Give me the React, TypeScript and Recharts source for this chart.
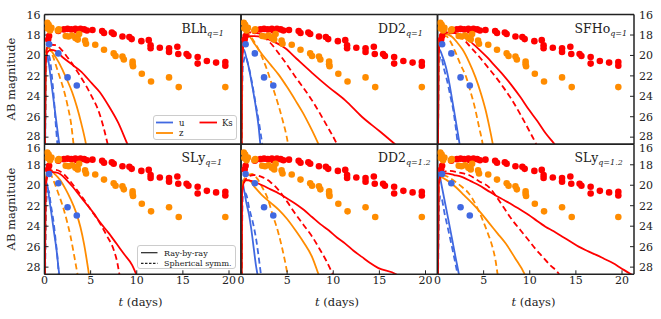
import { ComposedChart, Line, Scatter, XAxis, YAxis, ZAxis } from 'recharts'

type Pt = [number, number]

const X_TICKS = [0, 5, 10, 15, 20]
const Y_TICKS = [16, 18, 20, 22, 24, 26, 28]

// observed points (same in every panel)
const obsU: Pt[] = [[0.5, 18.9], [1.5, 19.8], [2.5, 22.15], [3.5, 22.95]]
const obsZ: Pt[] = [
  [0.3, 16.8], [0.45, 17.0], [0.35, 17.35], [0.6, 17.55], [0.75, 17.3], [1.45, 17.55], [1.55, 17.45],
  [2.3, 18.1], [2.6, 18.15], [3.0, 18.05], [3.35, 18.3], [3.55, 18.2], [3.75, 17.9], [3.6, 18.45],
  [4.4, 18.55], [4.5, 18.85], [5.5, 18.95], [6.45, 19.45], [7.5, 19.8], [7.7, 20.05], [8.45, 20.1],
  [8.6, 20.4], [9.55, 20.6], [9.55, 20.85], [9.6, 21.05], [10.55, 21.8], [11.55, 22.55], [13.5, 22.15],
  [14.55, 23.1], [19.6, 23.1],
]
const obsKs: Pt[] = [
  [0.4, 18.45], [0.5, 18.1], [1.5, 17.6], [2.1, 17.45], [2.5, 17.4], [2.9, 17.45], [3.35, 17.4],
  [3.5, 17.55], [3.9, 17.4], [4.3, 17.45], [4.6, 17.55], [5.2, 17.5], [6.25, 17.6], [6.45, 17.8],
  [7.3, 17.75], [7.5, 17.9], [8.45, 18.15], [9.2, 18.2], [9.45, 18.4], [10.5, 18.6], [11.3, 18.5],
  [11.5, 19.0], [11.5, 19.3], [12.5, 19.25], [13.5, 19.3], [13.5, 19.65], [14.4, 19.15], [14.5, 19.85],
  [15.4, 19.85], [15.6, 20.05], [16.6, 20.15], [16.6, 20.8], [17.6, 20.55], [18.6, 20.7], [19.6, 20.65],
  [19.6, 21.0],
]

// BLh q=1
const blhURay: Pt[] = [[0.05, 30], [0.15, 20.5], [0.25, 19.9], [0.4, 20.4], [0.7, 22.4], [1.0, 24.5], [1.3, 26.6], [1.6, 28.7], [1.7, 29.4]]
const blhUSph: Pt[] = [[0.05, 30], [0.2, 21], [0.35, 19.9], [0.55, 20.2], [0.8, 22.0], [1.0, 24.0], [1.2, 26.5], [1.4, 28.7], [1.5, 29.6]]
const blhZRay: Pt[] = [[0.05, 30], [0.12, 20.5], [0.3, 19.2], [0.6, 19.4], [1.0, 19.9], [1.5, 20.6], [2.0, 21.5], [2.5, 22.5], [3.0, 23.6], [3.5, 25.0], [4.0, 26.7], [4.5, 28.7], [4.6, 29.2]]
const blhZSph: Pt[] = [[0.05, 30], [0.15, 20], [0.35, 19.0], [0.6, 19.4], [1.0, 20.3], [1.5, 21.7], [2.0, 23.1], [2.5, 24.9], [2.9, 26.8], [3.15, 28.7], [3.25, 29.5]]
const blhKRay: Pt[] = [[0.05, 30], [0.1, 21], [0.3, 19.7], [0.7, 19.45], [1.2, 19.55], [2.0, 20.2], [3.0, 20.9], [4.0, 21.6], [5.0, 22.6], [6.0, 23.6], [7.0, 25.0], [8.0, 26.6], [9.0, 28.7], [9.3, 29.3]]
const blhKSph: Pt[] = [[0.05, 30], [0.12, 21], [0.3, 19.2], [0.7, 18.95], [1.2, 19.0], [1.8, 19.4], [2.5, 20.2], [3.0, 20.8], [3.5, 21.5], [4.0, 22.2], [5.0, 23.8], [6.0, 25.8], [6.85, 28.7], [7.0, 29.3]]

// DD2 q=1
const dd2URay: Pt[] = [[0.05, 30], [0.15, 20], [0.3, 19.4], [0.6, 20.3], [0.85, 21.2], [1.2, 22.9], [1.6, 25.0], [1.9, 26.9], [2.1, 28.7], [2.2, 29.4]]
const dd2USph: Pt[] = [[0.05, 30], [0.2, 21], [0.5, 20.1], [0.8, 21.0], [1.2, 22.7], [1.6, 24.8], [1.9, 26.3], [2.3, 28.7], [2.4, 29.4]]
const dd2ZRay: Pt[] = [[0.05, 30], [0.12, 20], [0.35, 18.3], [0.85, 18.15], [1.5, 18.9], [2.3, 19.9], [3.2, 20.9], [4.1, 21.9], [5.0, 23.1], [5.9, 24.4], [6.7, 25.6], [7.4, 26.8], [8.0, 27.9], [8.4, 28.7], [8.6, 29.2]]
const dd2ZSph: Pt[] = [[0.05, 30], [0.12, 20], [0.5, 17.8], [0.9, 18.0], [1.4, 18.6], [1.9, 19.4], [2.3, 20.2], [2.9, 21.6], [3.4, 23.0], [4.0, 24.7], [4.5, 26.3], [5.1, 28.7], [5.2, 29.3]]
const dd2KRay: Pt[] = [[0.05, 30], [0.1, 21], [0.3, 18.6], [0.8, 18.1], [1.4, 18.1], [2.3, 18.2], [3.4, 18.6], [4.8, 19.3], [6.0, 20.3], [7.7, 21.7], [9.5, 23.1], [11.3, 24.4], [13.1, 26.0], [15.0, 27.4], [16.7, 28.7], [17.2, 29.1]]
const dd2KSph: Pt[] = [[0.05, 30], [0.1, 21], [0.3, 18.2], [1.0, 17.75], [1.9, 17.85], [3.0, 18.6], [4.5, 20.3], [5.9, 22.1], [7.7, 24.4], [9.2, 26.7], [10.4, 28.7], [10.6, 29.1]]

// SFHo q=1
const sfhURay: Pt[] = [[0.05, 30], [0.1, 20.5], [0.2, 19.4], [0.5, 20.0], [0.9, 21.1], [1.3, 22.8], [1.6, 24.4], [2.0, 26.5], [2.4, 28.7], [2.5, 29.3]]
const sfhUSph: Pt[] = [[0.05, 30], [0.15, 21], [0.35, 20.1], [0.7, 21.3], [1.1, 22.7], [1.4, 24.0], [1.7, 25.3], [2.0, 27.2], [2.2, 28.7], [2.3, 29.4]]
const sfhZRay: Pt[] = [[0.05, 30], [0.12, 19.5], [0.35, 18.3], [0.9, 17.9], [1.6, 18.2], [2.2, 18.8], [2.7, 19.4], [3.4, 20.6], [4.1, 22.1], [4.7, 23.7], [5.2, 25.3], [5.6, 26.9], [6.0, 28.7], [6.1, 29.2]]
const sfhZSph: Pt[] = [[0.05, 30], [0.12, 19.5], [0.4, 18.1], [0.9, 18.1], [1.5, 18.8], [2.0, 19.8], [2.5, 20.9], [3.1, 22.1], [3.6, 23.6], [4.1, 25.3], [4.5, 27.0], [4.9, 28.7], [5.0, 29.3]]
const sfhKRay: Pt[] = [[0.05, 30], [0.1, 20], [0.3, 18.3], [0.8, 17.85], [1.25, 17.75], [2.0, 17.85], [2.7, 18.1], [3.5, 18.6], [4.5, 19.4], [5.4, 20.2], [6.3, 21.1], [7.2, 22.0], [8.1, 23.0], [9.0, 24.1], [9.9, 25.3], [10.8, 26.4], [11.7, 27.6], [12.7, 28.7], [13.0, 29.1]]
const sfhKSph: Pt[] = [[0.05, 30], [0.12, 20], [0.4, 18.1], [1.0, 17.6], [1.6, 17.7], [2.1, 17.9], [2.7, 18.3], [3.5, 19.1], [4.5, 20.1], [5.4, 21.1], [6.3, 22.1], [7.2, 23.2], [8.1, 24.4], [9.0, 25.8], [9.9, 27.3], [10.7, 28.7], [10.9, 29.1]]

// SLy q=1
const slyURay: Pt[] = [[0.05, 30], [0.1, 21], [0.25, 19.8], [0.5, 21.2], [0.8, 23.1], [1.05, 24.7], [1.3, 26.3], [1.6, 28.7], [1.7, 29.3]]
const slyUSph: Pt[] = [[0.05, 30], [0.2, 21.5], [0.43, 20.5], [0.7, 22.0], [1.0, 23.7], [1.2, 25.3], [1.4, 27.0], [1.55, 28.7], [1.65, 29.4]]
const slyZRay: Pt[] = [[0.05, 30], [0.1, 20], [0.3, 18.7], [0.6, 18.5], [1.1, 18.9], [1.7, 19.5], [2.3, 20.4], [2.8, 21.3], [3.4, 22.6], [3.9, 24.1], [4.3, 25.8], [4.7, 28.0], [4.85, 28.9]]
const slyZSph: Pt[] = [[0.05, 30], [0.12, 20], [0.35, 19.0], [0.6, 18.9], [1.0, 19.6], [1.5, 20.8], [2.0, 22.1], [2.4, 23.4], [2.8, 24.9], [3.1, 26.3], [3.4, 27.8], [3.6, 28.8], [3.7, 29.3]]
const slyKRay: Pt[] = [[0.05, 30], [0.1, 20.5], [0.3, 18.9], [0.6, 18.7], [1.2, 18.75], [1.7, 18.9], [2.4, 19.5], [3.1, 20.2], [3.8, 21.0], [4.6, 21.9], [5.3, 22.7], [6.0, 23.6], [6.9, 24.6], [7.8, 25.7], [8.6, 26.7], [9.5, 27.8], [9.9, 28.6], [10.1, 29.0]]
const slyKSph: Pt[] = [[0.05, 30], [0.15, 20], [0.5, 18.7], [1.15, 18.5], [1.8, 18.7], [2.4, 19.2], [3.3, 20.2], [4.2, 21.3], [5.1, 22.5], [6.0, 23.7], [6.8, 25.0], [7.5, 26.3], [7.9, 27.6], [8.1, 28.6], [8.2, 29.1]]

// DD2 q=1.2
const dd2bURay: Pt[] = [[0.05, 30], [0.1, 19.5], [0.3, 20.3], [0.6, 21.8], [0.85, 22.8], [1.1, 24.2], [1.4, 26.3], [1.6, 27.7], [1.8, 28.8], [1.9, 29.4]]
const dd2bUSph: Pt[] = [[0.05, 30], [0.2, 21], [0.5, 20.8], [0.9, 22.3], [1.4, 24.1], [1.7, 25.6], [1.9, 26.9], [2.1, 28.3], [2.2, 29.0]]
const dd2bZRay: Pt[] = [[0.05, 30], [0.1, 20.5], [0.3, 19.6], [0.85, 19.5], [1.5, 20.2], [2.3, 21.0], [3.2, 21.7], [4.1, 22.4], [5.0, 23.3], [5.9, 24.4], [6.8, 25.6], [7.7, 27.0], [8.4, 28.7], [8.6, 29.2]]
const dd2bZSph: Pt[] = [[0.05, 30], [0.12, 20], [0.5, 19.2], [1.2, 18.9], [1.8, 19.4], [2.3, 20.2], [2.9, 21.3], [3.4, 22.8], [4.0, 24.5], [4.5, 26.3], [5.0, 28.5], [5.1, 29.0]]
const dd2bKRay: Pt[] = [[0.05, 30], [0.12, 20.5], [0.5, 19.5], [1.2, 19.6], [2.3, 20.0], [3.2, 20.4], [4.1, 20.8], [5.0, 21.3], [5.9, 21.8], [6.8, 22.4], [7.7, 23.1], [8.6, 23.8], [9.5, 24.4], [10.4, 25.1], [11.3, 25.7], [12.2, 26.4], [13.1, 27.0], [14.0, 27.6], [14.9, 28.1], [16.8, 28.7], [17.2, 29.0]]
const dd2bKSph: Pt[] = [[0.05, 30], [0.15, 20.5], [0.6, 19.3], [1.4, 19.0], [2.3, 19.2], [3.2, 19.7], [4.1, 20.5], [5.0, 21.6], [5.9, 22.8], [6.8, 23.9], [7.7, 25.0], [8.5, 26.2], [9.2, 27.3], [9.9, 28.6], [10.1, 29.0]]

// SLy q=1.2
const slybURay: Pt[] = [[0.05, 30], [0.1, 19.5], [0.15, 18.7], [0.4, 19.8], [0.9, 22.1], [1.25, 23.7], [1.6, 25.35], [1.95, 27.0], [2.3, 28.6], [2.4, 29.1]]
const slybUSph: Pt[] = [[0.05, 30], [0.2, 21.5], [0.35, 21.1], [0.8, 22.9], [1.25, 24.7], [1.7, 26.6], [2.15, 28.6], [2.25, 29.1]]
const slybZRay: Pt[] = [[0.05, 30], [0.1, 20], [0.35, 19.2], [1.0, 19.5], [2.0, 20.2], [2.9, 21.0], [3.8, 21.8], [4.7, 22.7], [5.6, 23.7], [6.5, 24.7], [7.4, 25.7], [8.4, 27.1], [9.4, 28.6], [9.6, 29.0]]
const slybZSph: Pt[] = [[0.05, 30], [0.12, 20], [0.5, 19.0], [1.2, 19.2], [2.0, 19.7], [2.7, 20.2], [3.4, 20.8], [4.2, 22.0], [4.9, 23.4], [5.5, 24.8], [5.95, 26.0], [6.3, 27.4], [6.5, 28.6], [6.6, 29.1]]
const slybKRay: Pt[] = [[0.05, 30], [0.12, 20], [0.4, 19.0], [0.9, 18.85], [1.8, 19.0], [2.7, 19.2], [3.6, 19.6], [4.5, 20.0], [5.4, 20.5], [6.3, 21.0], [7.2, 21.45], [8.1, 21.9], [9.0, 22.4], [9.9, 22.9], [10.8, 23.5], [11.7, 24.05], [12.6, 24.5], [13.5, 25.0], [14.4, 25.5], [15.3, 26.0], [16.2, 26.4], [17.2, 26.8], [18.1, 27.2], [19.0, 27.6], [19.9, 28.1], [20.8, 28.6], [21.3, 28.85]]
const slybKSph: Pt[] = [[0.05, 30], [0.12, 20], [0.5, 18.8], [1.25, 18.6], [2.3, 18.75], [3.4, 19.0], [4.5, 19.6], [5.6, 20.2], [6.3, 21.0], [7.2, 22.2], [8.1, 23.4], [9.0, 24.4], [9.9, 25.4], [10.6, 26.2], [11.4, 27.0], [12.2, 27.8], [13.1, 28.6], [13.3, 28.9]]

const BLUE = '#4169e1'
const ORANGE = '#ff8c00'
const RED = '#ff0000'
const INK = '#222'
const SERIF = '"DejaVu Serif", serif'

const COL_X = [44.5, 241, 437.5]
const COL_W = 196.5
const ROW_Y = [14.6, 144.3]
const ROW_H = [129.7, 130]

const panels = [
  { name: 'BLh', sub: 'q=1', row: 0, col: 0, curves: [blhURay, blhUSph, blhZRay, blhZSph, blhKRay, blhKSph] },
  { name: 'DD2', sub: 'q=1', row: 0, col: 1, curves: [dd2URay, dd2USph, dd2ZRay, dd2ZSph, dd2KRay, dd2KSph] },
  { name: 'SFHo', sub: 'q=1', row: 0, col: 2, curves: [sfhURay, sfhUSph, sfhZRay, sfhZSph, sfhKRay, sfhKSph] },
  { name: 'SLy', sub: 'q=1', row: 1, col: 0, curves: [slyURay, slyUSph, slyZRay, slyZSph, slyKRay, slyKSph] },
  { name: 'DD2', sub: 'q=1.2', row: 1, col: 1, curves: [dd2bURay, dd2bUSph, dd2bZRay, dd2bZSph, dd2bKRay, dd2bKSph] },
  { name: 'SLy', sub: 'q=1.2', row: 1, col: 2, curves: [slybURay, slybUSph, slybZRay, slybZSph, slybKRay, slybKSph] },
]

const curveStyle = [
  { color: BLUE, dash: undefined },
  { color: BLUE, dash: '6 3.5' },
  { color: ORANGE, dash: undefined },
  { color: ORANGE, dash: '6 3.5' },
  { color: RED, dash: undefined },
  { color: RED, dash: '6 3.5' },
]

const rows = (pts: Pt[]) => pts.map(([t, m]) => ({ t, m }))

const tickFont = { fontSize: 11, fontFamily: SERIF, fill: INK }
const axisLine = { stroke: INK, strokeWidth: 1.5 }
const tickLine = { stroke: INK, strokeWidth: 1 }

// axes need a size of at least 1px or recharts skips them
const AX = 1

// y tick label; the lower row's "16" is nudged down so it clears the "28" above it
const yTick = (anchor: 'start' | 'end', row: number) => (props: any) => {
  const { x, y, payload } = props
  const dy = row === 1 && payload.value === 16 ? 4 : row === 0 && payload.value === 28 ? -1 : 0
  return (
    <text x={x} y={y + dy} dy="0.36em" textAnchor={anchor} {...tickFont}>
      {payload.value}
    </text>
  )
}

function Panel({ p }: { p: (typeof panels)[number] }) {
  const x0 = COL_X[p.col]
  const y0 = ROW_Y[p.row]
  const h = ROW_H[p.row]
  const margin = {
    left: x0 - AX,
    top: y0 - AX,
    right: 661 - x0 - COL_W - AX,
    bottom: 319 - y0 - h - AX,
  }
  const showX = p.row === 1
  const showL = p.col === 0
  const showR = p.col === 2
  return (
    <ComposedChart width={661} height={319} margin={margin} style={{ position: 'absolute', left: 0, top: 0 }}>
      <XAxis xAxisId="b" type="number" dataKey="t" domain={[0, 21.3]} ticks={X_TICKS} allowDataOverflow
        orientation="bottom" height={AX} tickSize={-4} tickMargin={6} axisLine={axisLine} tickLine={tickLine}
        tick={showX ? tickFont : false} interval={0} />
      <XAxis xAxisId="t" type="number" domain={[0, 21.3]} ticks={X_TICKS} allowDataOverflow
        orientation="top" height={AX} tickSize={-4} axisLine={axisLine} tickLine={tickLine} tick={false} interval={0} />
      <YAxis yAxisId="l" type="number" dataKey="m" domain={[16, 28.7]} ticks={Y_TICKS} allowDataOverflow reversed
        orientation="left" width={AX} tickSize={-4} tickMargin={8} axisLine={axisLine} tickLine={tickLine}
        tick={showL ? yTick('end', p.row) : false} interval={0} />
      <YAxis yAxisId="r" type="number" domain={[16, 28.7]} ticks={Y_TICKS} allowDataOverflow reversed
        orientation="right" width={AX} tickSize={-4} tickMargin={9} axisLine={axisLine} tickLine={tickLine}
        tick={showR ? yTick('start', p.row) : false} interval={0} />
      <ZAxis range={[34, 34]} />
      <Scatter xAxisId="b" yAxisId="l" data={rows(obsKs)} fill={RED} shape="circle" isAnimationActive={false} />
      <Scatter xAxisId="b" yAxisId="l" data={rows(obsZ)} fill={ORANGE} shape="circle" isAnimationActive={false} />
      <Scatter xAxisId="b" yAxisId="l" data={rows(obsU)} fill={BLUE} shape="circle" isAnimationActive={false} />
      {p.curves.map((c, i) => (
        <Line key={i} xAxisId="b" yAxisId="l" data={rows(c)} dataKey="m" type="monotone" dot={false}
          stroke={curveStyle[i].color} strokeWidth={1.8} strokeDasharray={curveStyle[i].dash}
          isAnimationActive={false} />
      ))}
    </ComposedChart>
  )
}

const txt: React.CSSProperties = { position: 'absolute', fontFamily: SERIF, color: INK, whiteSpace: 'nowrap', lineHeight: 1 }

export default function App() {
  return (
    <div style={{ position: 'absolute', left: 0, top: 0, width: 661, height: 319, background: '#fff', overflow: 'hidden' }}>
      {panels.map((p, i) => <Panel key={i} p={p} />)}

      {panels.map((p, i) => (
        <div key={'t' + i} style={{ ...txt, left: COL_X[p.col] + 137, top: ROW_Y[p.row] + 8, fontSize: 12.5 }}>
          {p.name}<span style={{ fontSize: 8, fontStyle: 'italic', position: 'relative', top: 3 }}>{p.sub}</span>
        </div>
      ))}

      {[0, 1].map((r) => (
        <div key={'y' + r} style={{ ...txt, fontSize: 11.5, left: 12, top: ROW_Y[r] + ROW_H[r] / 2, transform: 'translate(-50%, -50%) rotate(-90deg)' }}>
          AB magnitude
        </div>
      ))}

      {[0, 1, 2].map((c) => (
        <div key={'x' + c} style={{ ...txt, fontSize: 11.5, left: COL_X[c] + 96, top: 303, transform: 'translate(-50%, -50%)' }}>
          <i>t</i> (days)
        </div>
      ))}

      <div style={{ position: 'absolute', left: 152.7, top: 114.7, width: 84, height: 25, border: '1px solid #ccc', borderRadius: 3, background: 'rgba(255,255,255,0.85)', boxSizing: 'border-box' }}>
        <svg width={84} height={25} style={{ position: 'absolute', left: 0, top: 0 }}>
          <line x1={2} x2={19} y1={6.5} y2={6.5} stroke={BLUE} strokeWidth={1.8} />
          <line x1={2} x2={19} y1={17} y2={17} stroke={ORANGE} strokeWidth={1.8} />
          <line x1={45.5} x2={63} y1={6.5} y2={6.5} stroke={RED} strokeWidth={1.8} />
          <text x={25} y={9.5} fontSize={8.5} fontFamily={SERIF} fill={INK}>u</text>
          <text x={25} y={20} fontSize={8.5} fontFamily={SERIF} fill={INK}>z</text>
          <text x={68} y={9.5} fontSize={8.5} fontFamily={SERIF} fill={INK}>Ks</text>
        </svg>
      </div>

      <div style={{ position: 'absolute', left: 136.7, top: 245, width: 99.3, height: 24.3, border: '1px solid #ccc', borderRadius: 3, background: 'rgba(255,255,255,0.85)', boxSizing: 'border-box' }}>
        <svg width={99} height={24} style={{ position: 'absolute', left: 0, top: 0 }}>
          <line x1={3} x2={19.5} y1={6.7} y2={6.7} stroke={INK} strokeWidth={1.2} />
          <line x1={3} x2={19.5} y1={17.3} y2={17.3} stroke={INK} strokeWidth={1.2} strokeDasharray="2.5 1.5" />
          <text x={26} y={9.5} fontSize={8} fontFamily={SERIF} fill={INK}>Ray-by-ray</text>
          <text x={26} y={20} fontSize={8} fontFamily={SERIF} fill={INK}>Spherical symm.</text>
        </svg>
      </div>
    </div>
  )
}
